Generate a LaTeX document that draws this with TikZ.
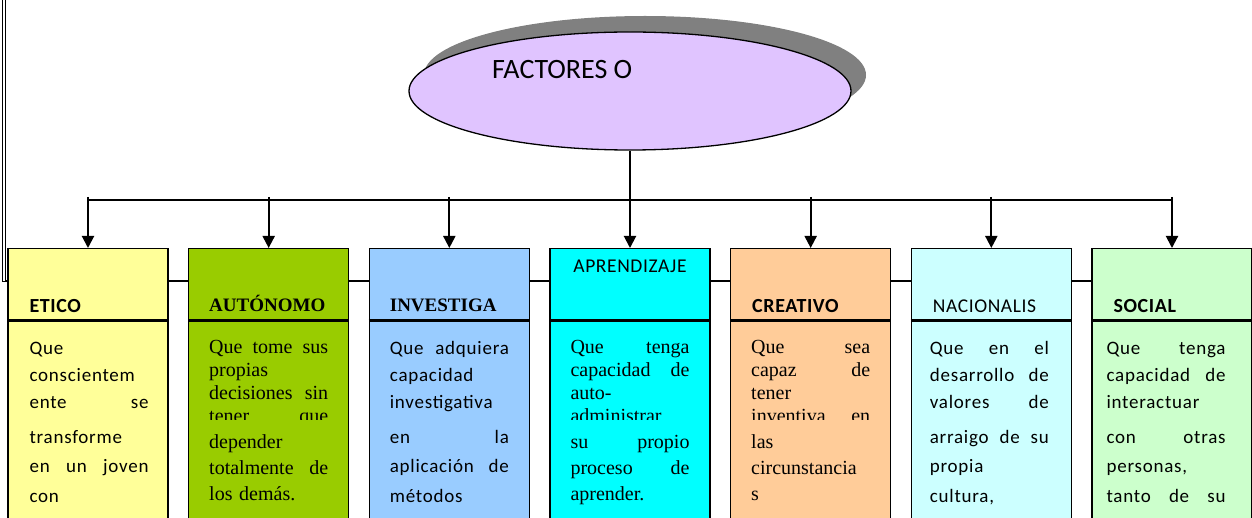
\documentclass[tikz,border=0pt]{standalone}
\usepackage{fontspec}
\setmainfont{Liberation Serif}
\newfontfamily\cali{Carlito}
\newfontfamily\calisp{Carlito}[LetterSpace=4]
\newfontfamily\calihd{Carlito}[LetterSpace=3]
\usetikzlibrary{arrows.meta,shapes.geometric,shadows}
\definecolor{lila}{HTML}{E0C4FF}
\definecolor{amarillo}{HTML}{FFFF99}
\definecolor{oliva}{HTML}{99CC00}
\definecolor{celeste}{HTML}{99CCFF}
\definecolor{cian}{HTML}{00FFFF}
\definecolor{salmon}{HTML}{FFCC99}
\definecolor{turquesa}{HTML}{CCFFFF}
\definecolor{verdeclaro}{HTML}{CCFFCC}
\newlength{\anchotx}\setlength{\anchotx}{119pt}
\newcommand{\estira}[1]{{\spaceskip=0pt\xspaceskip=0pt\makebox[\anchotx][s]{#1}}}
\newcommand{\izq}[1]{\makebox[\anchotx][l]{#1}}
\hbadness=10000 \hfuzz=20pt
\tikzset{
  caja/.style={draw=black, line width=1.3pt, minimum width=160pt, minimum height=290pt, anchor=north, inner sep=0pt},
  divisor/.style={line width=3pt},
  linea/.style={line width=1.3pt},
  flecha/.style={-{Triangle[length=12pt,width=12pt]}, line width=2pt},
  nube/.style={ellipse, draw=black, line width=1.3pt, fill=lila, minimum width=442pt, minimum height=118pt,
    drop shadow={shadow xshift=15pt, shadow yshift=16pt, fill=black!50, opacity=1}},
  cabsans/.style={anchor=base west, inner sep=0pt, font=\calihd\bfseries\fontsize{20}{22}\selectfont},
  cabserif/.style={anchor=base west, inner sep=0pt, font=\bfseries\fontsize{19}{21}\selectfont},
  cabfina/.style={anchor=base west, inner sep=0pt, font=\calihd\fontsize{19.5}{22}\selectfont},
  textoa/.style={anchor=base west, inner sep=0pt, text width=\anchotx, align=left, font=\calisp\fontsize{19}{27}\selectfont},
  textob/.style={anchor=base west, inner sep=0pt, text width=\anchotx, align=left, font=\calisp\fontsize{19}{29.5}\selectfont},
  romana/.style={anchor=base west, inner sep=0pt, text width=\anchotx, align=left, font=\fontsize{20}{23}\selectfont},
  romanb/.style={anchor=base west, inner sep=0pt, text width=\anchotx, align=left, font=\fontsize{20}{26}\selectfont}
}
\begin{document}
\begin{tikzpicture}[x=1pt,y=-1pt]
  \useasboundingbox (0,0) rectangle (1252,518);
  \clip (0,0) rectangle (1252,518);
  % marco de la izquierda y linea de fondo
  \draw[line width=0.9pt] (2.5,-5) rectangle (5.5,281);
  \draw[linea] (5.5,281) -- (1260,281);
  % elipse principal
  \node[nube] (factores) at (630,91) {};
  \node[anchor=base west, inner sep=0pt, font=\cali\fontsize{28}{30}\selectfont] (titulo) at (492,79) {FACTORES O};
  \coordinate (barra) at (630,200);
  % cajas
  \node[caja, fill=amarillo] (etico) at (88,248) {};
  \node[caja, fill=oliva] (autonomo) at (268.67,248) {};
  \node[caja, fill=celeste] (investiga) at (449.33,248) {};
  \node[caja, fill=cian] (aprende) at (630,248) {};
  \node[caja, fill=salmon] (creativo) at (810.67,248) {};
  \node[caja, fill=turquesa] (nacional) at (991.33,248) {};
  \node[caja, fill=verdeclaro] (social) at (1172,248) {};
  \foreach \c in {etico,autonomo,investiga,aprende,creativo,nacional,social}
    \draw[divisor] ([yshift=-73pt]\c.north west) -- ([yshift=-73pt]\c.north east);
  % conectores
  \draw[linea] (factores.south) -- (barra);
  \draw[linea] (etico.north |- barra) -- (social.north |- barra);
  \foreach \c in {etico,autonomo,investiga,aprende,creativo,nacional,social}
    \draw[flecha] ([yshift=3pt]\c.north |- barra) -- (\c.north);
  % encabezados
  \node[cabsans] (tetico) at ([xshift=22pt,yshift=-65pt]etico.north west) {ETICO};
  \node[cabserif] (tautonomo) at ([xshift=21pt,yshift=-64pt]autonomo.north west) {AUTÓNOMO};
  \node[cabserif] (tinvestiga) at ([xshift=21pt,yshift=-64pt]investiga.north west) {INVESTIGA};
  \node[anchor=base, inner sep=0pt, font=\calihd\fontsize{19.5}{22}\selectfont] (taprende) at ([yshift=-25pt]aprende.north) {APRENDIZAJE};
  \node[cabsans] (tcreativo) at ([xshift=22pt,yshift=-65pt]creativo.north west) {CREATIVO};
  \node[cabfina] (tnacional) at ([xshift=22pt,yshift=-65pt]nacional.north west) {NACIONALIS};
  \node[cabsans] (tsocial) at ([xshift=22pt,yshift=-65pt]social.north west) {SOCIAL};
  % textos, primera parte (cortada)
  \begin{scope}
    \clip (0,323) rectangle (1252,419);
    \node[textoa] (eticoa) at ([xshift=22pt,yshift=-106pt]etico.north west)
      {\izq{Que}\\ \izq{conscientem}\\ \estira{ente se}};
    \node[romana] (autonomoa) at ([xshift=21pt,yshift=-105pt]autonomo.north west)
      {\estira{Que tome sus}\\ \izq{propias}\\ \estira{decisiones sin}\\ \estira{tener que}};
    \node[textoa] (investigaa) at ([xshift=21pt,yshift=-106pt]investiga.north west)
      {\estira{Que adquiera}\\ \izq{capacidad}\\ \izq{investigativa}};
    \node[romana] (aprendea) at ([xshift=21pt,yshift=-105pt]aprende.north west)
      {\estira{Que tenga}\\ \estira{capacidad de}\\ \izq{auto-}\\ \izq{administrar}};
    \node[romana] (creativoa) at ([xshift=21pt,yshift=-105pt]creativo.north west)
      {\estira{Que sea}\\ \estira{capaz de}\\ \izq{tener}\\ \estira{inventiva en}};
    \node[textoa] (nacionala) at ([xshift=19pt,yshift=-106pt]nacional.north west)
      {\estira{Que en el}\\ \estira{desarrollo de}\\ \estira{valores de}};
    \node[textoa] (sociala) at ([xshift=15pt,yshift=-106pt]social.north west)
      {\estira{Que tenga}\\ \estira{capacidad de}\\ \izq{interactuar}};
  \end{scope}
  % textos, segunda parte
  \node[textob] (eticob) at ([xshift=22pt,yshift=-195pt]etico.north west)
    {\izq{transforme}\\ \estira{en un joven}\\ \izq{con}};
  \node[romanb] (autonomob) at ([xshift=21pt,yshift=-200pt]autonomo.north west)
    {\izq{depender}\\ \estira{totalmente de}\\ \izq{los demás.}};
  \node[textob] (investigab) at ([xshift=21pt,yshift=-195pt]investiga.north west)
    {\estira{en la}\\ \estira{aplicación de}\\ \izq{métodos}};
  \node[romanb] (aprendeb) at ([xshift=21pt,yshift=-200pt]aprende.north west)
    {\estira{su propio}\\ \estira{proceso de}\\ \izq{aprender.}};
  \node[romanb] (creativob) at ([xshift=21pt,yshift=-200pt]creativo.north west)
    {\izq{las}\\ \izq{circunstancia}\\ \izq{s}};
  \node[textob] (nacionalb) at ([xshift=19pt,yshift=-195pt]nacional.north west)
    {\estira{arraigo de su}\\ \izq{propia}\\ \izq{cultura,}};
  \node[textob] (socialb) at ([xshift=15pt,yshift=-195pt]social.north west)
    {\estira{con otras}\\ \izq{personas,}\\ \estira{tanto de su}};
\end{tikzpicture}
\end{document}
